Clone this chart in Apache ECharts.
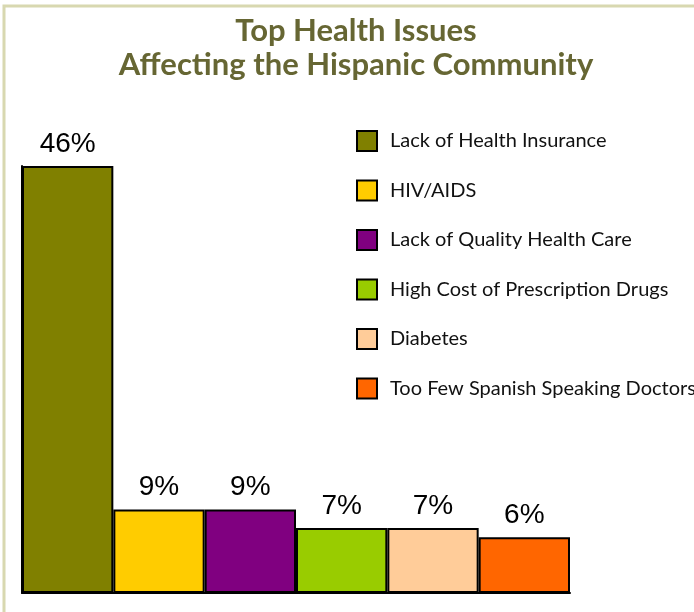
<!DOCTYPE html>
<html>
<head>
<meta charset="utf-8">
<script src="https://cdn.jsdelivr.net/npm/echarts@6/dist/echarts.min.js"></script>
<style>
  html, body { margin: 0; padding: 0; background: #fff; }
  #chart { width: 694px; height: 612px; }
</style>
</head>
<body>
<div id="chart"></div>
<script>
// Survey results: share of respondents naming each issue
const issues = [
  'Lack of Health Insurance',
  'HIV/AIDS',
  'Lack of Quality Health Care',
  'High Cost of Prescription Drugs',
  'Diabetes',
  'Too Few Spanish Speaking Doctors'
];
const shares = [46, 9, 9, 7, 7, 6];
const colors = ['#808000', '#ffcc00', '#800080', '#99cc00', '#ffcc99', '#ff6600'];

// One series per issue so every bar gets its own legend entry;
// stacking keeps them in a single slot per category.
const series = issues.map((name, i) => ({
  name: name,
  type: 'bar',
  stack: 'all',
  barWidth: '100%',
  data: shares.map((v, j) => (j === i ? v : '-')),
  itemStyle: { color: colors[i], borderColor: '#000', borderWidth: 2 },
  label: {
    show: true,
    position: 'top',
    distance: 8,
    formatter: '{c}%',
    color: '#000',
    fontFamily: 'Liberation Sans, Arial, sans-serif',
    fontSize: 28
  },
  emphasis: { disabled: true }
}));

const chart = echarts.init(document.getElementById('chart'), null, { renderer: 'canvas' });
chart.setOption({
  animation: false,
  backgroundColor: '#fff',
  title: {
    text: 'Top Health Issues\nAffecting the Hispanic Community',
    left: 351,
    textAlign: 'center',
    top: 9,
    textStyle: {
      color: '#666633',
      fontFamily: 'Lato, sans-serif',
      fontWeight: 'bold',
      fontSize: 31,
      lineHeight: 34
    }
  },
  legend: {
    orient: 'vertical',
    left: 356,
    top: 130,
    padding: 0,
    itemWidth: 20,
    itemHeight: 20,
    itemGap: 27.5,
    icon: 'rect',
    textStyle: {
      color: '#111',
      fontFamily: 'Lato, sans-serif',
      fontSize: 20,
      lineHeight: 20,
      padding: [0, 0, 0, 8]
    },
    data: issues
  },
  graphic: [{
    type: 'rect',
    shape: { x: 4, y: 6, width: 720, height: 640 },
    style: { fill: 'none', stroke: '#d8d8b0', lineWidth: 3 },
    silent: true
  }],
  grid: { left: 22, right: 124, top: 166, bottom: 19 },
  xAxis: {
    type: 'category',
    data: issues,
    axisLine: { show: true, lineStyle: { color: '#000', width: 2 } },
    axisTick: { show: false },
    axisLabel: { show: false }
  },
  yAxis: {
    type: 'value',
    min: 0,
    max: 46,
    axisLine: { show: true, lineStyle: { color: '#000', width: 2 } },
    axisTick: { show: false },
    axisLabel: { show: false },
    splitLine: { show: false }
  },
  series: series
});
</script>
</body>
</html>
